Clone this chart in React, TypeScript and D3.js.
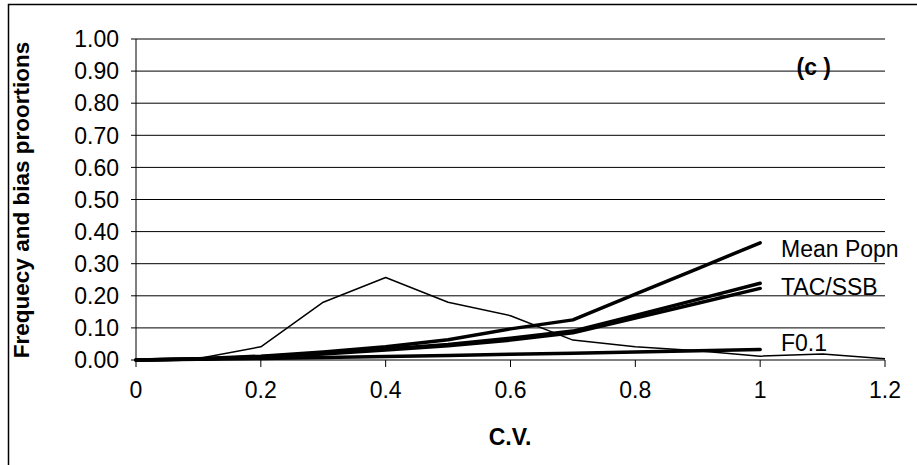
import React from "react";
import * as d3 from "d3";

const cvFreq = [0, 0.1, 0.2, 0.3, 0.4, 0.5, 0.6, 0.7, 0.8, 0.9, 1.0, 1.1, 1.2];
const frequency = [0, 0.005, 0.041, 0.18, 0.257, 0.18, 0.138, 0.062, 0.041, 0.029, 0.012, 0.019, 0.004];
const cvBias = [0, 0.1, 0.2, 0.3, 0.4, 0.5, 0.6, 0.7, 0.8, 0.9, 1.0];
const meanPopn = [0, 0.004, 0.012, 0.025, 0.041, 0.063, 0.097, 0.125, 0.205, 0.285, 0.365];
const tac = [0, 0.003, 0.01, 0.021, 0.034, 0.048, 0.068, 0.09, 0.139, 0.189, 0.239];
const ssb = [0, 0.003, 0.009, 0.019, 0.031, 0.044, 0.062, 0.085, 0.131, 0.177, 0.223];
const f01 = [0, 0.002, 0.005, 0.008, 0.011, 0.014, 0.018, 0.021, 0.025, 0.029, 0.033];
const yTicks = [0, 0.1, 0.2, 0.3, 0.4, 0.5, 0.6, 0.7, 0.8, 0.9, 1.0];
const xTicks = [0, 0.2, 0.4, 0.6, 0.8, 1.0, 1.2];
const seriesLabels = [
  { name: "Mean Popn", data: meanPopn },
  { name: "TAC/SSB", data: tac },
  { name: "F0.1", data: f01 },
];

export default function App() {
  const W = 917, H = 465;
  const left = 136, right = 885, top = 39, bottom = 360;
  const x = d3.scaleLinear().domain([0, 1.2]).range([left, right]);
  const y = d3.scaleLinear().domain([0, 1]).range([bottom, top]);
  const line = (xs: number[], ys: number[]) =>
    d3.line<number>().x((_, i) => x(xs[i])).y((d) => y(d))(ys) || "";
  const font = "'Liberation Sans', Arial, sans-serif";
  const fs = 23;
  const labelY = [257, 295, 351];
  return (
    <svg width={W} height={H} style={{ position: "absolute", left: 0, top: 0, background: "#fff" }} fontFamily={font}>
      <rect x={8.5} y={4.5} width={1000} height={1000} fill="#fff" stroke="#000" strokeWidth={1.5} />
      {yTicks.map((t) => (
        <g key={t}>
          {t > 0 && <line x1={left} x2={right} y1={y(t)} y2={y(t)} stroke="#000" strokeWidth={1} />}
          <line x1={left - 5} x2={left} y1={y(t)} y2={y(t)} stroke="#000" strokeWidth={1} />
          <text x={119} y={y(t)} dy="0.36em" textAnchor="end" fontSize={fs}>{t.toFixed(2)}</text>
        </g>
      ))}
      {xTicks.map((t) => (
        <g key={t}>
          <line x1={x(t)} x2={x(t)} y1={bottom} y2={bottom + 7} stroke="#000" strokeWidth={1} />
          <text x={x(t)} y={398} textAnchor="middle" fontSize={fs}>{d3.format("~g")(t)}</text>
        </g>
      ))}
      <line x1={left} x2={left} y1={top} y2={bottom} stroke="#000" strokeWidth={1} />
      <line x1={left} x2={right} y1={bottom} y2={bottom} stroke="#000" strokeWidth={1} />
      <path d={line(cvFreq, frequency)} fill="none" stroke="#000" strokeWidth={1.5} strokeLinejoin="round" />
      <path d={line(cvBias, meanPopn)} fill="none" stroke="#000" strokeWidth={3.5} strokeLinejoin="round" strokeLinecap="round" />
      <path d={line(cvBias, tac)} fill="none" stroke="#000" strokeWidth={3.5} strokeLinejoin="round" strokeLinecap="round" />
      <path d={line(cvBias, ssb)} fill="none" stroke="#000" strokeWidth={3.5} strokeLinejoin="round" strokeLinecap="round" />
      <path d={line(cvBias, f01)} fill="none" stroke="#000" strokeWidth={3.5} strokeLinejoin="round" strokeLinecap="round" />
      {seriesLabels.map((s, i) => (
        <text key={s.name} x={781} y={labelY[i]} fontSize={fs}>{s.name}</text>
      ))}
      <text x={831} y={75} textAnchor="end" fontSize={fs} fontWeight="bold">(c )</text>
      <text x={510} y={445} textAnchor="middle" fontSize={fs} fontWeight="bold">C.V.</text>
      <text transform={`translate(29,200) rotate(-90)`} textAnchor="middle" fontSize={22.5} fontWeight="bold">Frequecy and bias proortions</text>
    </svg>
  );
}
